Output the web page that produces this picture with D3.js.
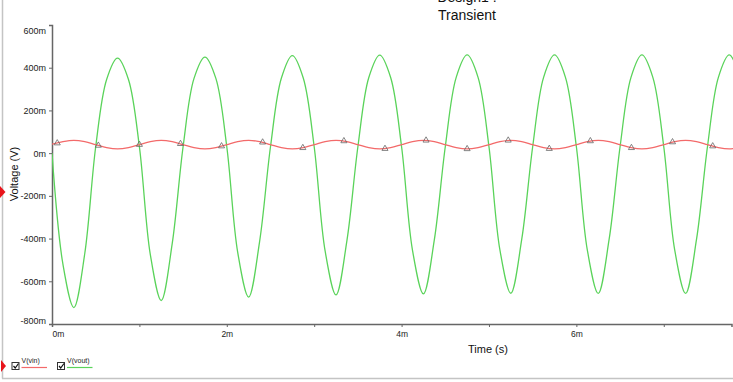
<!DOCTYPE html>
<html>
<head>
<meta charset="utf-8">
<script src="https://cdn.jsdelivr.net/npm/d3@7"></script>
<style>
  body { margin: 0; background: #fff; }
  svg { display: block; font-family: "Liberation Sans", Arial, sans-serif; }
</style>
</head>
<body>
<div id="chart"></div>
<script>
var width = 733, height = 382;
var margin = {left: 52, top: 25, right: 1.5, bottom: 58};

// DATA (time in ms, voltage in mV)
var timeMs = [0, 0.125, 0.25, 0.375, 0.5, 0.625, 0.75, 0.875,
  1, 1.125, 1.25, 1.375, 1.5, 1.625, 1.75, 1.875,
  2, 2.125, 2.25, 2.375, 2.5, 2.625, 2.75, 2.875,
  3, 3.125, 3.25, 3.375, 3.5, 3.625, 3.75, 3.875,
  4, 4.125, 4.25, 4.375, 4.5, 4.625, 4.75, 4.875,
  5, 5.125, 5.25, 5.375, 5.5, 5.625, 5.75, 5.875,
  6, 6.125, 6.25, 6.375, 6.5, 6.625, 6.75, 6.875,
  7, 7.125, 7.25, 7.375, 7.5, 7.625, 7.75, 7.875];
var vout = [0, -520, -723, -470, 30, 345, 445, 345,
  30, -475, -690, -425, 30, 350, 450, 350,
  30, -465, -674, -415, 30, 352, 457, 352,
  30, -458, -664, -408, 30, 354, 459, 354,
  30, -455, -659, -405, 30, 355, 460, 355,
  30, -453, -656, -403, 30, 355, 460, 355,
  30, -453, -657, -403, 30, 355, 460, 355,
  30, -453, -657, -403, 30, 355, 460, 355];
var vin = [42, 54, 60, 54, 40, 26, 20, 26,
  40, 54, 60, 54, 40, 26, 20, 26,
  40, 54, 60, 54, 40, 26, 20, 26,
  40, 54, 60, 54, 40, 26, 20, 26,
  40, 54, 60, 54, 40, 26, 20, 26,
  40, 54, 60, 54, 40, 26, 20, 26,
  40, 54, 60, 54, 40, 26, 20, 26,
  40, 54, 60, 54, 40, 26, 20, 26];
var markerTimes = [0.06, 0.53, 1.00, 1.47, 1.94, 2.41, 2.87, 3.34, 3.81, 4.28, 4.75, 5.22, 5.69, 6.16, 6.63, 7.10, 7.56];
var markerValues = [47, 36, 40, 44, 33, 51, 25, 57, 21, 60, 20, 60, 21, 57, 25, 52, 33];
var yTicks = [600, 400, 200, 0, -200, -400, -600, -800];
var xTicks = [0, 1, 2, 3, 4, 5, 6, 7];
var legendNames = ["V(vin)", "V(vout)"];
var colors = ["#f36a6a", "#5ad35a"];

// SCALES
var x = d3.scaleLinear().domain([0, 7.775]).range([margin.left, width - margin.right]);
var y = d3.scaleLinear().domain([-800, 600]).range([324, margin.top]);

var svg = d3.select("#chart").append("svg")
    .attr("width", width)
    .attr("height", height);

svg.append("rect").attr("width", width).attr("height", height).attr("fill", "#fff");

// frame lines (left + bottom of the window)
svg.append("line").attr("x1", 2.5).attr("x2", 2.5).attr("y1", 0).attr("y2", 378.5)
  .attr("stroke", "#c4c4c4").attr("stroke-width", 1.5);
svg.append("line").attr("x1", 2).attr("x2", width).attr("y1", 378.5).attr("y2", 378.5)
  .attr("stroke", "#c4c4c4").attr("stroke-width", 1.5);

// TITLES (the first line is cut by the top edge, as in the original window)
svg.append("text").attr("x", 467).attr("y", 1.5).attr("text-anchor", "middle")
  .style("font-size", "14px").attr("fill", "#111").text("Design1 :");
svg.append("text").attr("x", 467).attr("y", 19.5).attr("text-anchor", "middle")
  .style("font-size", "14px").attr("fill", "#111").text("Transient");

// AXES
var yAxis = svg.append("g")
  .attr("transform", "translate(" + margin.left + ",0)")
  .call(d3.axisLeft(y).tickValues(yTicks).tickSize(3).tickPadding(3)
    .tickFormat(function(d) { return String(d) + "m"; }));
yAxis.select(".domain").attr("stroke", "#666").attr("stroke-width", 1.5);
yAxis.selectAll(".tick line").attr("stroke", "#666");
yAxis.selectAll(".tick text").style("font-size", "9px").attr("fill", "#222")
  .attr("dy", function(d) { return d === 600 ? "0.95em" : (d === -800 ? "-0.1em" : "0.33em"); });

var xAxis = svg.append("g")
  .attr("transform", "translate(0,324)")
  .call(d3.axisBottom(x).tickValues(xTicks).tickSize(3).tickPadding(4)
    .tickFormat(function(d) { return d % 2 === 0 ? d + "m" : ""; }));
xAxis.select(".domain").attr("stroke", "#666").attr("stroke-width", 1.5);
xAxis.selectAll(".tick line").attr("stroke", "#666");
xAxis.selectAll(".tick text").style("font-size", "8.5px").attr("fill", "#222")
  .attr("text-anchor", function(d) { return d === 0 ? "start" : "middle"; });

svg.append("text").attr("x", 488).attr("y", 353).attr("text-anchor", "middle")
  .style("font-size", "11px").attr("fill", "#111").text("Time (s)");
svg.append("text")
  .attr("transform", "translate(17.5,174) rotate(-90)")
  .attr("text-anchor", "middle")
  .style("font-size", "11px").attr("fill", "#111").text("Voltage (V)");

// red cursor marks at the left edge
svg.append("path").attr("d", "M0,186 L5.5,192 L0,198 Z").attr("fill", "#e8141b");
svg.append("path").attr("d", "M1,360 L6,366 L1,372 Z").attr("fill", "#e8141b");

// CLIP
svg.append("clipPath").attr("id", "plotClip").append("rect")
  .attr("x", margin.left).attr("y", 0).attr("width", width - margin.left).attr("height", 324);

var plot = svg.append("g").attr("clip-path", "url(#plotClip)");

var line = function(vals) {
  return d3.line()
    .x(function(d, i) { return x(timeMs[i]); })
    .y(function(d) { return y(d); })
    .curve(d3.curveCatmullRom)(vals);
};

plot.append("path").attr("d", line(vout))
  .attr("fill", "none").attr("stroke", colors[1]).attr("stroke-width", 1.3);
plot.append("path").attr("d", line(vin))
  .attr("fill", "none").attr("stroke", colors[0]).attr("stroke-width", 1.3);

// triangle markers on vin
plot.selectAll("path.marker")
  .data(markerTimes)
  .enter().append("path")
  .attr("class", "marker")
  .attr("d", d3.symbol(d3.symbolTriangle).size(16))
  .attr("transform", function(d, i) { return "translate(" + x(d) + "," + y(markerValues[i]) + ")"; })
  .attr("fill", "none").attr("stroke", "#666").attr("stroke-width", 0.8);

// LEGEND
var legend = svg.selectAll("g.legend")
  .data(legendNames)
  .enter().append("g")
  .attr("class", "legend")
  .attr("transform", function(d, i) { return "translate(" + (12 + i * 45.5) + ",0)"; });

legend.append("rect").attr("x", 0).attr("y", 362.5).attr("width", 7).attr("height", 7)
  .attr("fill", "#fff").attr("stroke", "#333").attr("stroke-width", 1);
legend.append("path").attr("d", "M1.5,366 L3.2,368 L6.5,363.5")
  .attr("fill", "none").attr("stroke", "#111").attr("stroke-width", 1.2);
legend.append("text").attr("x", 9.5).attr("y", 363).style("font-size", "7px")
  .attr("fill", "#222").text(function(d) { return d; });
legend.append("line").attr("x1", 9.5).attr("x2", 35).attr("y1", 367.5).attr("y2", 367.5)
  .attr("stroke", function(d, i) { return colors[i]; }).attr("stroke-width", 1.2);
</script>
</body>
</html>
